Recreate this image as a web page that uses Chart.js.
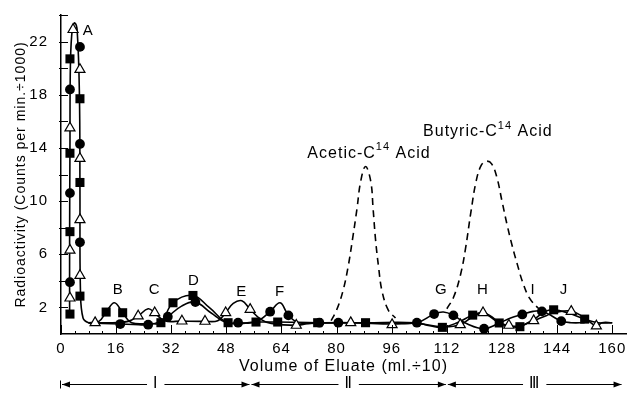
<!DOCTYPE html>
<html><head><meta charset="utf-8">
<script src="https://cdn.jsdelivr.net/npm/chart.js@4/dist/chart.umd.min.js"></script>
<style>html,body{margin:0;padding:0;background:#fff}#wrap{width:633px;height:397px}</style>
</head><body><div id="wrap"><canvas id="c" width="633" height="397"></canvas></div>
<script>
// ---- data (x = volume of eluate, ml/10 ; y = counts per min / 1000) ----
const xTickLabels = [0,16,32,48,64,80,96,112,128,144,160];
const yTickLabels = [2,6,10,14,18,22];

const squaresMarkers = [[2.6,1.5],[2.6,7.7],[2.6,13.6],[2.6,20.7],[5.5,17.7],[5.5,11.4],[5.5,2.85],
  [13.1,1.65],[17.9,1.6],[29,0.85],[32.5,2.35],[38.3,2.9],[48.5,0.85],[56.6,0.9],[62.9,0.9],[74.5,0.85],
  [88.4,0.85],[110.7,0.5],[119.5,1.42],[127.2,0.83],[133.2,0.55],[143,1.82],[152,1.12]];
const circlesMarkers = [[2.6,3.9],[2.6,10.6],[2.6,18.4],[5.5,21.6],[5.5,14.3],[5.5,6.9],
  [17.2,0.75],[25.3,0.7],[31,1.3],[39,2.4],[51.4,0.85],[60.7,1.68],[66,1.4],[75,0.85],[80.5,0.85],
  [103.3,0.85],[108.3,1.5],[113.9,1.4],[122.8,0.4],[133.9,1.47],[139.6,1.7],[145.2,0.97]];
const trianglesMarkers = [[2.6,2.7],[2.6,6.3],[2.6,15.5],[3.5,22.9],[5.5,19.9],[5.5,13.2],[5.5,8.6],[5.5,4.4],
  [9.9,0.85],[22.4,1.35],[27.2,1.6],[35.1,0.97],[41.8,0.95],[47.8,1.6],[54.9,1.85],[68.3,0.65],[84.1,0.85],
  [96.1,0.7],[115.9,0.7],[122.5,1.6],[130,0.65],[137.2,1.0],[148.1,1.7],[155.4,0.6]];

const peakACurve = [[2.5,1.3],[2.5,7],[2.6,14],[2.75,20.5],[3.3,23.0],[4.0,23.4],[4.7,22.8],[5.35,18],[5.5,11],
  [5.65,3.2],[6.4,1.2],[8,0.85],[10,0.85]];
const squaresCurve = [[8,0.85],[11,0.95],[13.1,1.65],[15.5,2.35],[17.9,1.6],[20.5,0.85],[26,0.8],[29,0.85],
  [32.5,2.35],[38.3,2.9],[43,2.0],[48.5,0.85],[56.6,0.9],[62.9,0.9],[74.5,0.85],[88.4,0.85],[103,0.85],
  [107,0.62],[110.7,0.5],[115,0.85],[119.5,1.42],[122.5,1.6],[127.2,0.83],[130.5,0.55],[133.2,0.55],
  [137.5,1.15],[140.5,1.7],[143,1.82],[147,1.6],[152,1.12],[156,0.85],[160,0.85]];
const circlesCurve = [[8,0.85],[12,0.8],[17.2,0.75],[21,0.72],[25.3,0.7],[29,0.95],[31,1.3],[35,2.1],[39,2.4],
  [43.5,1.6],[48,0.85],[51.4,0.85],[56.5,0.9],[60.7,1.68],[63.6,2.35],[66,1.4],[69,0.85],[75,0.85],
  [80.5,0.85],[96,0.85],[103.3,0.85],[108.3,1.5],[111,1.65],[113.9,1.4],[118,0.75],[122.8,0.4],[127,0.8],
  [130.5,1.2],[133.9,1.47],[137,1.7],[139.6,1.72],[142.5,1.35],[145.2,0.97],[148,0.85],[152,0.85]];
const trianglesCurve = [[8,0.85],[9.9,0.85],[15,0.85],[19.5,0.95],[22.4,1.35],[25.3,1.9],[27.2,1.6],[30,1.0],
  [35.1,0.97],[41.8,0.95],[45.5,1.0],[47.8,1.6],[50,2.3],[52.5,2.5],[54.9,1.85],[58,1.1],[61,0.8],[68.3,0.65],
  [72,0.8],[84.1,0.85],[96.1,0.75],[103,0.8],[110.7,0.55],[115.9,0.7],[119.5,1.3],[122.5,1.6],[125,1.3],
  [127.2,0.85],[130,0.65],[133,0.6],[137.2,1.0],[141,1.4],[144,1.65],[148.1,1.72],[151.5,1.3],[155.4,0.6],
  [157,0.85],[160,0.85]];

const aceticCurve = [[78.4,1.0],[80,1.8],[81.8,3.2],[83.3,5.0],[84.6,7.1],[85.9,9.4],[87.0,11.5],[88.4,12.6],
  [89.9,11.5],[90.6,9.4],[91.3,7.1],[92.2,5.0],[93.2,3.2],[95,1.8],[97.1,1.2]];
const butyricCurve = [[112,1.9],[114,2.8],[116,4.5],[117.4,6.4],[119,9.2],[120.5,11.5],[122,12.7],[123.5,13.0],
  [125,12.8],[126.5,11.8],[128,10],[129.5,8.2],[131,6.6],[132.5,5.2],[134,3.9],[136,2.7],[138.7,1.9],[140,1.75]];

const peakLetters = ['A','B','C','D','E','F','G','H','I','J'];
const peakLetterX = [7.9,16.6,27.2,38.6,52.5,63.6,110.4,122.5,137,146];
const peakLetterY = [22.8,3.35,3.35,4.0,3.2,3.2,3.35,3.35,3.35,3.35];

const acidLabels = [['Acetic-C','14',' Acid'],['Butyric-C','14',' Acid']];
const acidLabelX = [89.4,123.9];
const acidLabelY = [13.6,15.2];

const fractionNames = ['\u2160','\u2161','\u2162'];
const fractionStart = [0,55,112];
const fractionEnd = [55,112,163];

// ---- drawing ----
const FONT = '"Liberation Sans", Arial, sans-serif';
const xy = a => a.map(p => ({x:p[0], y:p[1]}));
const curve = d => ({data: xy(d), showLine: true, borderColor: '#000', borderWidth: 1.6, pointRadius: 0,
  tension: 0.4, fill: false, order: 2});

const spacing = {
  id: 'spacing',
  beforeLayout(chart) { chart.ctx.letterSpacing = '1px'; },
  beforeDraw(chart) { chart.ctx.letterSpacing = '1px'; }
};

const overlay = {
  id: 'overlay',
  afterDatasetsDraw(chart) {
    const ctx = chart.ctx, xs = chart.scales.x, ys = chart.scales.y, a = chart.chartArea;
    ctx.save();
    ctx.letterSpacing = '1px';
    ctx.strokeStyle = '#000'; ctx.fillStyle = '#000'; ctx.lineWidth = 1;
    // inward ticks
    for (let v = 0; v <= 160; v += 4) {
      const px = Math.round(xs.getPixelForValue(v)) + 0.5;
      const len = v % 16 === 0 ? 9 : 3;
      ctx.beginPath(); ctx.moveTo(px, a.bottom); ctx.lineTo(px, a.bottom - len); ctx.stroke();
    }
    for (let v = 2; v <= 24; v += 2) {
      const py = Math.round(ys.getPixelForValue(v)) + 0.5;
      ctx.beginPath(); ctx.moveTo(a.left - 2, py); ctx.lineTo(a.left + 7, py); ctx.stroke();
    }
    // peak letters
    ctx.font = '15px ' + FONT; ctx.textAlign = 'center'; ctx.textBaseline = 'middle';
    peakLetters.forEach((t, i) => ctx.fillText(t, xs.getPixelForValue(peakLetterX[i]), ys.getPixelForValue(peakLetterY[i])));
    // acid labels with superscript
    acidLabels.forEach((parts, i) => {
      ctx.font = '16px ' + FONT; const w0 = ctx.measureText(parts[0]).width, w2 = ctx.measureText(parts[2]).width;
      ctx.font = '11px ' + FONT; const w1 = ctx.measureText(parts[1]).width;
      const cx = xs.getPixelForValue(acidLabelX[i]), cy = ys.getPixelForValue(acidLabelY[i]);
      let x = cx - (w0 + w1 + w2) / 2;
      ctx.textAlign = 'left';
      ctx.font = '16px ' + FONT; ctx.fillText(parts[0], x, cy); x += w0;
      ctx.font = '11px ' + FONT; ctx.fillText(parts[1], x, cy - 6); x += w1;
      ctx.font = '16px ' + FONT; ctx.fillText(parts[2], x, cy);
    });
    // fraction brackets
    const by = 384.5;
    ctx.font = '15px "DejaVu Sans", sans-serif'; ctx.textAlign = 'center'; ctx.lineWidth = 1;
    const arrow = (x, dir) => { ctx.beginPath(); ctx.moveTo(x, by); ctx.lineTo(x - dir * 8, by - 3); ctx.lineTo(x - dir * 8, by + 3); ctx.closePath(); ctx.fill(); };
    fractionNames.forEach((t, i) => {
      const x0 = xs.getPixelForValue(fractionStart[i]) + 1, x1 = xs.getPixelForValue(fractionEnd[i]) - 1;
      const mid = (x0 + x1) / 2, half = ctx.measureText(t).width / 2 + 6;
      ctx.beginPath(); ctx.moveTo(x0, by); ctx.lineTo(mid - half, by); ctx.moveTo(mid + half, by); ctx.lineTo(x1, by); ctx.stroke();
      arrow(x0, -1); arrow(x1, 1);
      ctx.fillText(t, mid, by);
    });
    const xz = xs.getPixelForValue(0);
    ctx.beginPath(); ctx.moveTo(xz - 0.5, by - 4); ctx.lineTo(xz - 0.5, by + 4); ctx.stroke();
    ctx.restore();
  }
};

new Chart(document.getElementById('c'), {
  type: 'scatter',
  data: { datasets: [
    curve(peakACurve), curve(squaresCurve), curve(circlesCurve), curve(trianglesCurve),
    Object.assign(curve(aceticCurve), {borderDash: [7, 5]}),
    Object.assign(curve(butyricCurve), {borderDash: [7, 5]}),
    {data: xy(squaresMarkers), pointStyle: 'rect', pointRadius: 6.4, backgroundColor: '#000', borderColor: '#000', borderWidth: 0, order: 1},
    {data: xy(circlesMarkers), pointStyle: 'circle', pointRadius: 4.9, backgroundColor: '#000', borderColor: '#000', borderWidth: 0, order: 1},
    {data: xy(trianglesMarkers), pointStyle: 'triangle', pointRadius: 5.8, backgroundColor: '#fff', borderColor: '#000', borderWidth: 1.2, order: 0}
  ]},
  options: {
    responsive: false, animation: false, devicePixelRatio: 1,
    layout: {padding: {top: 15, right: 2, left: 0, bottom: 0}},
    plugins: {legend: {display: false}, tooltip: {enabled: false}},
    scales: {
      x: {type: 'linear', min: 0, max: 164,
        afterBuildTicks: s => { s.ticks = xTickLabels.map(v => ({value: v})); },
        afterFit: s => { s.height = 63; },
        grid: {display: false}, border: {display: true, color: '#000', width: 1.5},
        ticks: {color: '#000', padding: -2, font: {family: FONT, size: 15}, maxRotation: 0, autoSkip: false},
        title: {display: true, text: 'Volume of Eluate (ml.÷10)', color: '#000', font: {family: FONT, size: 16}, padding: {top: 0, bottom: 21}}
      },
      y: {type: 'linear', min: 0, max: 24,
        afterBuildTicks: s => { s.ticks = yTickLabels.map(v => ({value: v})); },
        afterFit: s => { s.width = 61; },
        grid: {display: false}, border: {display: true, color: '#000', width: 1.5},
        ticks: {color: '#000', padding: 5, font: {family: FONT, size: 15}},
        title: {display: true, text: 'Radioactivity (Counts per min.÷1000)', color: '#000', font: {family: FONT, size: 14}, padding: {top: 13, bottom: 0}}
      }
    }
  },
  plugins: [spacing, overlay]
});
</script></body></html>
